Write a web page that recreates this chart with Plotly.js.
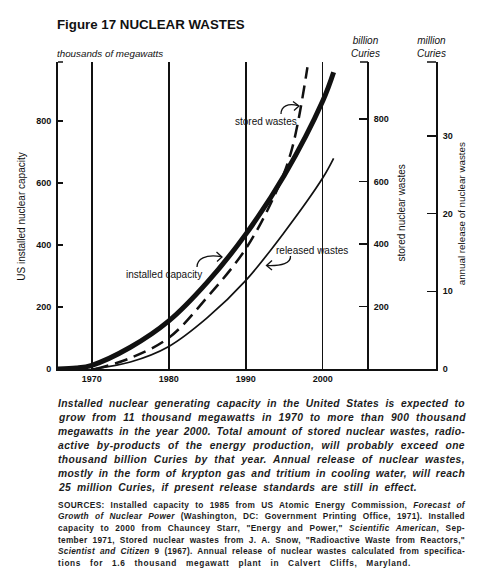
<!DOCTYPE html>
<html><head><meta charset="utf-8">
<script src="https://cdn.plot.ly/plotly-3.0.1.min.js"></script>
<style>html,body{margin:0;padding:0;background:#fff;}#chart{width:500px;height:568px;}</style>
</head><body><div id="chart"></div>
<script>
// ---- data ----
const yearsCapacity = [1965.6, 1968, 1970, 1975, 1980, 1985, 1990, 1995, 2000, 2001.4];
const installedCapacity = [0, 3, 12, 70, 155, 280, 435, 625, 865, 957];
const yearsStored = [1970.5, 1975, 1980, 1985, 1990, 1994, 1996, 1998];
const storedWastes = [0, 35, 100, 230, 385, 570, 705, 965];
const yearsReleased = [1970, 1975, 1980, 1985, 1990, 1995, 2000, 2001.4];
const releasedWastes = [0, 0.9, 2.9, 6.6, 11.4, 17.6, 24.6, 27.1];
const xTickYears = [1970, 1980, 1990, 2000];
const capacityTicks = [0, 200, 400, 600, 800];
const billionTicks = [200, 400, 600, 800];
const millionTicks = [0, 10, 20, 30];

const captionLines = [
  "Installed nuclear generating capacity in the United States is expected to",
  "grow from 11 thousand megawatts in 1970 to more than 900 thousand",
  "megawatts in the year 2000. Total amount of stored nuclear wastes, radio-",
  "active by-products of the energy production, will probably exceed one",
  "thousand billion Curies by that year. Annual release of nuclear wastes,",
  "mostly in the form of krypton gas and tritium in cooling water, will reach",
  "25 million Curies, if present release standards are still in effect."
];
const sourceLines = [
  "SOURCES: Installed capacity to 1985 from US Atomic Energy Commission, <i>Forecast of</i>",
  "<i>Growth of Nuclear Power</i> (Washington, DC: Government Printing Office, 1971). Installed",
  "capacity to 2000 from Chauncey Starr, \"Energy and Power,\" <i>Scientific American</i>, Sep-",
  "tember 1971, Stored nuclear wastes from J. A. Snow, \"Radioactive Waste from Reactors,\"",
  "<i>Scientist and Citizen</i> 9 (1967). Annual release of nuclear wastes calculated from specifica-",
  "tions for 1.6 thousand megawatt plant in Calvert Cliffs, Maryland."
];

// ---- layout helpers (pixel -> paper) ----
const L = 58, R = 436, T = 62, B = 369;
const fx = x => (x - L) / (R - L);
const fy = y => (B - y) / (B - T);
const FONT = 'Liberation Sans, Arial, Helvetica, sans-serif';
const INK = '#111';

function pathPx(...parts) {
  let out = '', pair = [];
  parts.forEach(p => {
    if (typeof p === 'string') out += p + ' ';
    else { pair.push(p); if (pair.length === 2) { out += fx(pair[0]).toFixed(5) + ',' + fy(pair[1]).toFixed(5) + ' '; pair = []; } }
  });
  return out.trim();
}

const annotations = [];
const justifyTargets = {};
function ann(text, x, y, o) {
  o = o || {};
  annotations.push({
    text: text, x: fx(x), y: fy(y), xref: 'paper', yref: 'paper', showarrow: false,
    xanchor: o.xanchor || 'center', yanchor: 'middle', align: o.align || 'center',
    textangle: o.angle || 0, borderpad: 0, borderwidth: 0,
    font: { family: FONT, size: o.size || 10, color: o.color || INK, weight: o.weight || 'normal', style: o.style || 'normal' }
  });
  return annotations.length - 1;
}

ann('Figure 17 NUCLEAR WASTES', 57, 25, { xanchor: 'left', align: 'left', size: 13.3, weight: 'bold' });
ann('thousands of megawatts', 57, 53, { xanchor: 'left', align: 'left', size: 9.8, style: 'italic' });
ann('billion<br>Curies', 365, 47, { style: 'italic' });
ann('million<br>Curies', 431, 47, { style: 'italic' });
ann('US installed nuclear capacity', 22, 216.7, { angle: -90 });
ann('stored nuclear wastes', 401, 213.5, { angle: -90 });
ann('annual release of nuclear wastes', 461, 213.3, { angle: -90, size: 9.8 });
ann('stored wastes', 266, 121);
ann('released wastes', 312, 250);
ann('installed capacity', 164, 274);

captionLines.forEach((t, i) => {
  const idx = ann(t, 58, 403.3 + i * 14, { xanchor: 'left', align: 'left', size: 10.3, weight: 'bold', style: 'italic', color: '#1c1c1c' });
  justifyTargets[idx] = (i === captionLines.length - 1) ? 358 : 407;
});
sourceLines.forEach((t, i) => {
  const idx = ann(t, 58, 504.5 + i * 11.7, { xanchor: 'left', align: 'left', size: 8.3, weight: 'bold', color: '#1c1c1c' });
  justifyTargets[idx] = (i === sourceLines.length - 1) ? 353 : 407;
});

const lineStyle = { color: INK, width: 1.3 };
const shapes = [
  // end caps at the top of the three vertical axes
  { type: 'line', xref: 'paper', yref: 'paper', x0: fx(58), x1: fx(63), y0: 1, y1: 1, line: { color: INK, width: 1.5 } },
  { type: 'line', xref: 'paper', yref: 'paper', x0: fx(360), x1: fx(368), y0: 1, y1: 1, line: { color: INK, width: 1.5 } },
  { type: 'line', xref: 'paper', yref: 'paper', x0: fx(427), x1: fx(436), y0: 1, y1: 1, line: { color: INK, width: 1.5 } },
  // curved pointers
  { type: 'path', xref: 'paper', yref: 'paper', path: pathPx('M', 281, 114, 'C', 281, 106, 288, 103, 298, 105.5), line: lineStyle },
  { type: 'path', xref: 'paper', yref: 'paper', path: pathPx('M', 293, 101.5, 'L', 299, 106, 'L', 294, 110.5), line: lineStyle },
  { type: 'path', xref: 'paper', yref: 'paper', path: pathPx('M', 197, 267, 'C', 197, 259, 205, 254, 221, 256.5), line: lineStyle },
  { type: 'path', xref: 'paper', yref: 'paper', path: pathPx('M', 216.5, 252, 'L', 222, 257, 'L', 217, 261.5), line: lineStyle },
  { type: 'path', xref: 'paper', yref: 'paper', path: pathPx('M', 290.5, 256, 'C', 291, 263, 282, 266, 267, 265.5), line: lineStyle },
  { type: 'path', xref: 'paper', yref: 'paper', path: pathPx('M', 272, 260.5, 'L', 266.5, 265.5, 'L', 272, 270), line: lineStyle }
];

const tickFont = { family: FONT, size: 9, weight: 'bold', color: INK };
const baseY = {
  showline: true, linecolor: INK, linewidth: 2, showgrid: false, zeroline: false,
  ticks: 'inside', tickcolor: INK, tickwidth: 1.5, tickfont: tickFont, fixedrange: true
};

const traces = [
  { x: yearsCapacity, y: installedCapacity, yaxis: 'y', type: 'scatter', mode: 'lines',
    line: { color: INK, width: 5, shape: 'spline', smoothing: 1 }, hoverinfo: 'skip' },
  { x: yearsStored, y: storedWastes, yaxis: 'y2', type: 'scatter', mode: 'lines',
    line: { color: INK, width: 2.5, dash: '13px,7px', shape: 'spline', smoothing: 1 }, hoverinfo: 'skip' },
  { x: yearsReleased, y: releasedWastes, yaxis: 'y3', type: 'scatter', mode: 'lines',
    line: { color: INK, width: 1.7, shape: 'spline', smoothing: 1 }, hoverinfo: 'skip' }
];

const layout = {
  width: 500, height: 568,
  margin: { l: 58, r: 64, t: 62, b: 199, pad: 0 },
  paper_bgcolor: '#fff', plot_bgcolor: '#fff', showlegend: false,
  font: { family: FONT, color: INK },
  xaxis: {
    range: [1965.6, 2014.7], tickvals: xTickYears, ticks: '', showgrid: true, gridcolor: INK, gridwidth: 1.3,
    showline: true, linecolor: INK, linewidth: 2, zeroline: false, tickfont: tickFont, fixedrange: true
  },
  yaxis: Object.assign({}, baseY, { range: [0, 990], tickvals: capacityTicks, ticklen: 5, ticklabelstandoff: 3 }),
  yaxis2: Object.assign({}, baseY, { range: [0, 982], tickvals: billionTicks, ticklen: 8, overlaying: 'y', side: 'right',
    anchor: 'free', position: fx(368), ticklabelstandoff: 3 }),
  yaxis3: Object.assign({}, baseY, { range: [0, 39.5], tickvals: millionTicks, ticklen: 9, overlaying: 'y', side: 'right',
    anchor: 'x', ticklabelstandoff: 3 }),
  annotations: annotations,
  shapes: shapes
};

Plotly.newPlot('chart', traces, layout, { staticPlot: true, displayModeBar: false }).then(gd => {
  gd.querySelectorAll('g.annotation').forEach(g => {
    const idx = +g.getAttribute('data-index');
    const target = justifyTargets[idx];
    if (target === undefined) return;
    const el = g.querySelector('text.annotation-text');
    if (!el) return;
    const txt = el.textContent;
    const n = txt.length;
    const sp = (txt.match(/ /g) || []).length;
    const w0 = el.getComputedTextLength();
    const extra = target - w0;
    const ls = Math.max(0, extra * 0.45 / n);
    el.style.letterSpacing = ls + 'px';
    const w1 = el.getComputedTextLength();
    if (sp) el.style.wordSpacing = ((target - w1) / sp) + 'px';
  });
});
</script></body></html>
